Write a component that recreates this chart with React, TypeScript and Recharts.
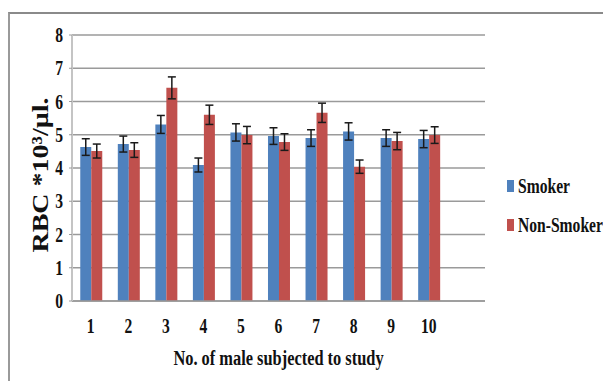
import React from 'react';
import { BarChart, Bar, XAxis, YAxis, CartesianGrid, ErrorBar, Legend } from 'recharts';

const categories = ['1', '2', '3', '4', '5', '6', '7', '8', '9', '10', ''];
const smoker = [4.63, 4.72, 5.31, 4.09, 5.07, 4.96, 4.9, 5.1, 4.9, 4.87, null];
const smokerErr = [0.25, 0.24, 0.27, 0.21, 0.26, 0.25, 0.25, 0.26, 0.25, 0.26, null];
const nonSmoker = [4.51, 4.54, 6.41, 5.6, 4.99, 4.78, 5.66, 4.04, 4.81, 4.99, null];
const nonSmokerErr = [0.21, 0.22, 0.33, 0.29, 0.26, 0.25, 0.29, 0.2, 0.26, 0.25, null];
const yTicks = [0, 1, 2, 3, 4, 5, 6, 7, 8];
const seriesNames = ['Smoker', 'Non-Smoker'];
const xTitle = 'No. of male subjected to study';
const yTitle = 'RBC *10³/µl.';

const data = categories.map((c, i) => ({
  cat: c,
  smoker: smoker[i],
  smokerErr: smokerErr[i],
  nonSmoker: nonSmoker[i],
  nonSmokerErr: nonSmokerErr[i],
}));

const FONT = '"Liberation Serif", "Times New Roman", serif';
const SX = 0.78;
const BLUE = '#4F81BD';
const RED = '#C0504D';

const YTick = (props: any) => {
  const { x, y, payload } = props;
  return (
    <text
      transform={`translate(${x},${y}) scale(${SX},1)`}
      textAnchor="end"
      dy="0.35em"
      fontFamily={FONT}
      fontWeight="bold"
      fontSize={20}
      fill="#111"
    >
      {payload.value}
    </text>
  );
};

const XTick = (props: any) => {
  const { x, y, payload } = props;
  return (
    <text
      transform={`translate(${x},${y + 32}) scale(${SX},1)`}
      textAnchor="middle"
      fontFamily={FONT}
      fontWeight="bold"
      fontSize={20}
      fill="#111"
    >
      {payload.value}
    </text>
  );
};

const XTitle = (props: any) => {
  const vb = props.viewBox || { x: 72, y: 301, width: 413, height: 40 };
  const cx = vb.x + vb.width / 2;
  return (
    <text
      transform={`translate(${cx},${365}) scale(${SX},1)`}
      textAnchor="middle"
      fontFamily={FONT}
      fontWeight="bold"
      fontSize={21}
      fill="#111"
    >
      {xTitle}
    </text>
  );
};

const YTitle = () => (
  <text
    transform={`translate(48,175) rotate(-90) scale(1,0.8)`}
    textAnchor="middle"
    fontFamily={FONT}
    fontWeight="bold"
    fontSize={28}
    fill="#111"
  >
    {yTitle}
  </text>
);

const LegendContent = (props: any) => {
  const items = [...(props.payload || [])].sort(
    (a: any, b: any) => seriesNames.indexOf(a.value) - seriesNames.indexOf(b.value)
  );
  return (
    <div style={{ fontFamily: FONT, fontWeight: 'bold', fontSize: 20, color: '#111', width: 110 }}>
      {items.map((it: any, i: number) => (
        <div key={i} style={{ position: 'relative', height: 39 }}>
          <div
            style={{
              position: 'absolute',
              left: 0,
              top: 1,
              width: 7,
              height: 12,
              background: it.color,
            }}
          />
          <span
            style={{
              position: 'absolute',
              left: 11,
              top: -5,
              whiteSpace: 'nowrap',
              display: 'inline-block',
              transform: `scaleX(${SX})`,
              transformOrigin: 'left center',
              lineHeight: '24px',
            }}
          >
            {it.value}
          </span>
        </div>
      ))}
    </div>
  );
};

export default function App() {
  return (
    <div style={{ position: 'relative', width: 611, height: 389, margin: -8, overflow: 'hidden', background: '#fff' }}>
      <div
        style={{
          position: 'absolute',
          left: 8,
          top: 12,
          width: 640,
          height: 420,
          borderTop: '2px solid #8a8a8a',
          borderLeft: '2px solid #9a9a9a',
        }}
      />
      <div style={{ position: 'absolute', left: 0, top: 0 }}>
        <BarChart
          width={611}
          height={389}
          data={data}
          margin={{ top: 35, right: 126, bottom: 58, left: 0 }}
          barCategoryGap="22%"
          barGap={0}
        >
          <CartesianGrid vertical={false} stroke="#9a9a9a" strokeWidth={1.3} />
          <XAxis
            dataKey="cat"
            height={30}
            tickSize={0}
            tickMargin={0}
            tickLine={false}
            axisLine={{ stroke: '#999', strokeWidth: 1.5 }}
            tick={<XTick />}
            interval={0}
            label={<XTitle />}
          />
          <YAxis
            width={72}
            domain={[0, 8]}
            ticks={yTicks}
            interval={0}
            tickSize={3}
            tickMargin={6}
            tickLine={{ stroke: '#9a9a9a' }}
            axisLine={{ stroke: '#c4c4c4', strokeWidth: 2 }}
            tick={<YTick />}
            label={<YTitle />}
          />
          <Legend
            layout="vertical"
            align="center"
            verticalAlign="middle"
            content={<LegendContent />}
            wrapperStyle={{ position: 'absolute', left: 507, top: 179, width: 110, height: 80, overflow: 'visible' }}
          />
          <Bar dataKey="smoker" name={seriesNames[0]} fill={BLUE} isAnimationActive={false}>
            <ErrorBar dataKey="smokerErr" width={4} stroke="#1a1a1a" strokeWidth={1.5} direction="y" isAnimationActive={false} />
          </Bar>
          <Bar dataKey="nonSmoker" name={seriesNames[1]} fill={RED} isAnimationActive={false}>
            <ErrorBar dataKey="nonSmokerErr" width={4} stroke="#1a1a1a" strokeWidth={1.5} direction="y" isAnimationActive={false} />
          </Bar>
        </BarChart>
      </div>
    </div>
  );
}
